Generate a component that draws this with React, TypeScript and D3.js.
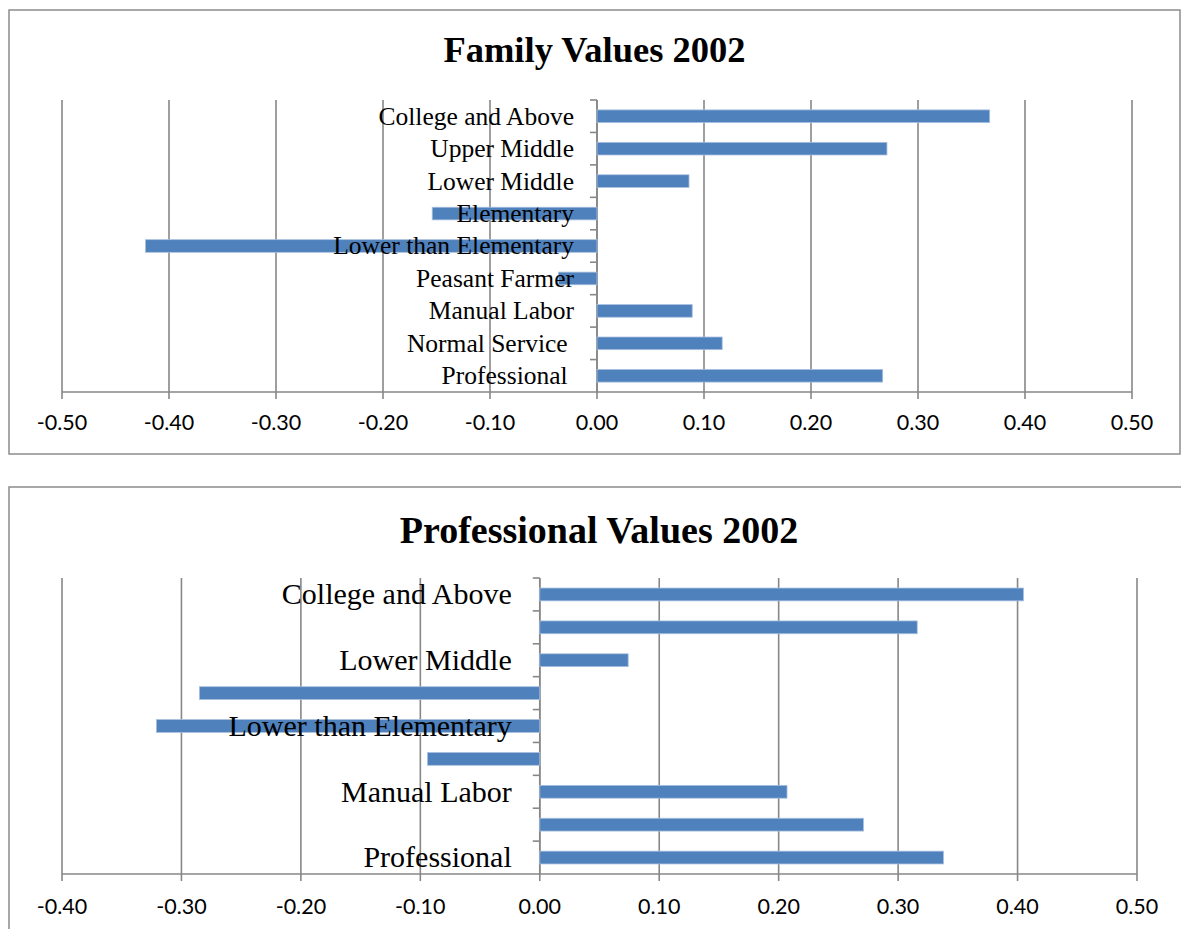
import React from "react";
import * as d3 from "d3";

// Categories, listed top to bottom
const categories = [
  "College and Above",
  "Upper Middle",
  "Lower Middle",
  "Elementary",
  "Lower than Elementary",
  "Peasant Farmer",
  "Manual Labor",
  "Normal Service ",
  "Professional ",
];

const familyValues = [0.367, 0.271, 0.086, -0.154, -0.422, -0.036, 0.089, 0.117, 0.267];
const professionalValues = [0.405, 0.316, 0.074, -0.285, -0.321, -0.094, 0.207, 0.271, 0.338];

const familyTicks = [-0.5, -0.4, -0.3, -0.2, -0.1, 0, 0.1, 0.2, 0.3, 0.4, 0.5];
const professionalTicks = [-0.4, -0.3, -0.2, -0.1, 0, 0.1, 0.2, 0.3, 0.4, 0.5];

const BAR = "#4F81BD";
const GRID = "#878787";
const SERIF = "'Liberation Serif', 'Times New Roman', serif";
const SANS = "Lato, 'Open Sans', sans-serif";
const fmt = d3.formatLocale({
  decimal: ".",
  thousands: ",",
  grouping: [3],
  currency: ["", ""],
  minus: "-",
}).format(".2f");

type PanelProps = {
  title: string;
  values: number[];
  ticks: number[];
  frame: { x: number; y: number; w: number; h: number };
  plot: { left: number; right: number; top: number; bottom: number };
  titleY: number;
  titleSize: number;
  labelSize: number;
  labelGap: number;
  labelEvery: number;
  trimLabels: boolean;
  tickLabelOffset: number;
};

function Panel(p: PanelProps) {
  const x = d3
    .scaleLinear()
    .domain([p.ticks[0], p.ticks[p.ticks.length - 1]])
    .range([p.plot.left, p.plot.right]);
  const y = d3
    .scaleBand<string>()
    .domain(categories)
    .range([p.plot.top, p.plot.bottom])
    .paddingInner(0.61)
    .paddingOuter(0.305);
  const band = d3
    .scaleBand<string>()
    .domain(categories)
    .range([p.plot.top, p.plot.bottom]);
  const x0 = x(0);
  const tickLen = 7;

  return (
    <g>
      <rect
        x={p.frame.x}
        y={p.frame.y}
        width={p.frame.w}
        height={p.frame.h}
        fill="#fff"
        stroke="#8c8c8c"
        strokeWidth={1.5}
      />
      <text
        x={p.frame.x + p.frame.w / 2}
        y={p.titleY}
        textAnchor="middle"
        fontFamily={SERIF}
        fontWeight="bold"
        fontSize={p.titleSize}
        fill="#000"
      >
        {p.title}
      </text>

      {/* vertical gridlines with outside ticks */}
      {p.ticks.map((t) => (
        <line
          key={"g" + t}
          x1={x(t)}
          x2={x(t)}
          y1={p.plot.top}
          y2={p.plot.bottom + tickLen}
          stroke={GRID}
          strokeWidth={1.6}
        />
      ))}
      {/* horizontal value axis */}
      <line
        x1={p.plot.left}
        x2={p.plot.right}
        y1={p.plot.bottom}
        y2={p.plot.bottom}
        stroke={GRID}
        strokeWidth={1.6}
      />
      {/* category axis at zero */}
      <line x1={x0} x2={x0} y1={p.plot.top} y2={p.plot.bottom} stroke={GRID} strokeWidth={1.6} />
      {categories.map((c, i) => (
        <line
          key={"ct" + i}
          x1={x0 - tickLen}
          x2={x0}
          y1={band(c)!}
          y2={band(c)!}
          stroke={GRID}
          strokeWidth={1.6}
        />
      ))}

      {/* bars */}
      {categories.map((c, i) => {
        const v = p.values[i];
        return (
          <rect
            key={"b" + i}
            x={Math.min(x(v), x0)}
            y={y(c)!}
            width={Math.abs(x(v) - x0)}
            height={y.bandwidth()}
            fill={BAR}
            stroke="#a9c0de"
            strokeWidth={0.8}
          />
        );
      })}

      {/* category labels */}
      {categories.map((c, i) =>
        i % p.labelEvery === 0 ? (
          <text
            key={"l" + i}
            x={x0 - p.labelGap}
            y={band(c)! + band.bandwidth() / 2}
            dy="0.33em"
            textAnchor="end"
            fontFamily={SERIF}
            fontSize={p.labelSize}
            fill="#000"
            style={{ whiteSpace: "pre" }}
          >
            {p.trimLabels ? c.trim() : c}
          </text>
        ) : null
      )}

      {/* value tick labels */}
      {p.ticks.map((t) => (
        <text
          key={"t" + t}
          x={x(t)}
          y={p.plot.bottom + p.tickLabelOffset}
          textAnchor="middle"
          fontFamily={SANS}
          fontSize={21.5}
          fill="#000"
        >
          {fmt(t)}
        </text>
      ))}
    </g>
  );
}

export default function App() {
  return (
    <svg
      width={1181}
      height={929}
      style={{ position: "absolute", left: 0, top: 0, background: "#fff" }}
    >
      <Panel
        title="Family Values 2002"
        values={familyValues}
        ticks={familyTicks}
        frame={{ x: 9, y: 10, w: 1171, h: 444 }}
        plot={{ left: 62, right: 1132, top: 100, bottom: 392 }}
        titleY={62}
        titleSize={36.5}
        labelSize={25.5}
        labelGap={23}
        labelEvery={1}
        trimLabels={false}
        tickLabelOffset={38}
      />
      <Panel
        title="Professional Values 2002"
        values={professionalValues}
        ticks={professionalTicks}
        frame={{ x: 9, y: 487, w: 1180, h: 460 }}
        plot={{ left: 62, right: 1137, top: 578, bottom: 874 }}
        titleY={543}
        titleSize={38}
        labelSize={30}
        labelGap={28}
        labelEvery={2}
        trimLabels={true}
        tickLabelOffset={40}
      />
    </svg>
  );
}
